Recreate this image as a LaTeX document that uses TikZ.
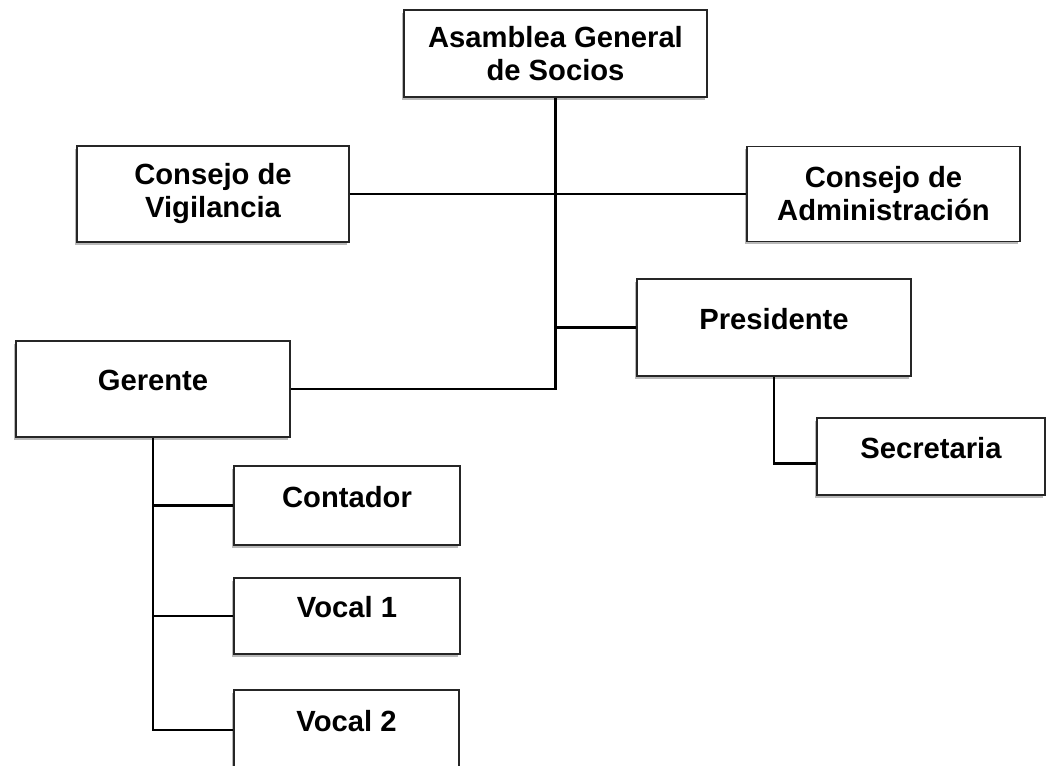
\documentclass[tikz,border=0pt]{standalone}
\usepackage{fontspec}
\setmainfont{Liberation Sans}
\usetikzlibrary{shadows}

\begin{document}
\begin{tikzpicture}[x=0.75pt,y=-0.75pt,line width=2.2pt]
        \tikzstyle{box}=[draw=black!85,line width=1.3pt,fill=white,inner sep=0pt,align=center,
                         font=\fontsize{21.9}{24.75}\selectfont\bfseries,
                         drop shadow={shadow xshift=-1.5pt,shadow yshift=-2pt,opacity=.55}]
        \tikzstyle{oneline}=[text depth=13.5pt]
        \useasboundingbox (0,0) rectangle (1046,765);

        \node[box,minimum width=227.25pt,minimum height=65.25pt]         (AGS) at (555.5,53.5) {Asamblea General\\de Socios};
        \node[box,minimum width=204pt,minimum height=72pt]               (CV)  at (213,194)    {Consejo de\\Vigilancia};
        \node[box,minimum width=204.75pt,minimum height=71.25pt]         (CA)  at (883.5,194)  {Consejo de\\Administración};
        \node[box,oneline,minimum width=205.5pt,minimum height=72.75pt]  (P)   at (774,327.5)  {Presidente};
        \node[box,oneline,minimum width=205.5pt,minimum height=72pt]     (G)   at (153,389)    {Gerente};
        \node[box,oneline,minimum width=171pt,minimum height=57.75pt]    (S)   at (931,456.5)  {Secretaria};
        \node[box,oneline,minimum width=169.5pt,minimum height=59.25pt]  (C)   at (347,505.5)  {Contador};
        \node[box,oneline,minimum width=169.5pt,minimum height=57pt]     (V1)  at (347,616)    {Vocal 1};
        \node[box,oneline,minimum width=168.75pt,minimum height=60pt]    (V2)  at (346.5,730)  {Vocal 2};

        \draw (AGS) |- (G);
        \draw (CV) -- (CA);
        \draw (P.west) -| (AGS.south);
        \draw (P.south) |- ([yshift=-5pt]S.west);
        \foreach \n in {C,V1,V2}
            \draw (G) |- (\n);
\end{tikzpicture}
\end{document}
